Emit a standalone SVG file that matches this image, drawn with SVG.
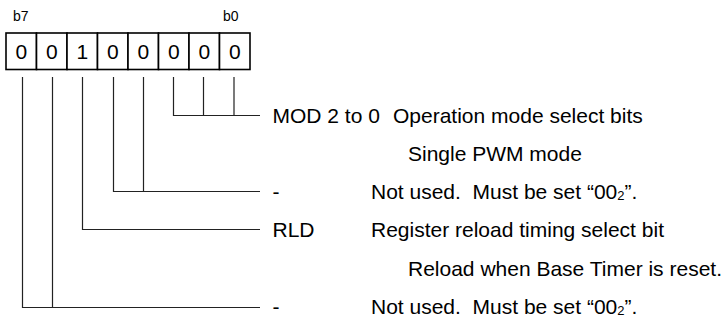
<svg xmlns="http://www.w3.org/2000/svg" width="728" height="320" viewBox="0 0 728 320">
<style>
text{font-family:"Liberation Sans",Arial,sans-serif;fill:#000}
.bitlbl{font-size:14px}
.digit{font-size:21px;text-anchor:middle}
.lbl{font-size:21px}
.sub{font-size:13px}
.cell{fill:#fff;stroke:#000;stroke-width:1.6}
.conn{fill:none;stroke:#222;stroke-width:1.2}
</style>
<rect width="728" height="320" fill="#fff"/>
<g id="register">
<text class="bitlbl" x="13" y="21">b7</text>
<text class="bitlbl" x="223" y="21">b0</text>
<rect class="cell" x="6" y="33" width="30.5" height="36.5"/>
<rect class="cell" x="36.5" y="33" width="30.5" height="36.5"/>
<rect class="cell" x="67" y="33" width="30.5" height="36.5"/>
<rect class="cell" x="97.5" y="33" width="30.5" height="36.5"/>
<rect class="cell" x="128" y="33" width="30.5" height="36.5"/>
<rect class="cell" x="158.5" y="33" width="30.5" height="36.5"/>
<rect class="cell" x="189" y="33" width="30.5" height="36.5"/>
<rect class="cell" x="219.5" y="33" width="30.5" height="36.5"/>
<text class="digit" x="21.25" y="58.5">0</text>
<text class="digit" x="51.75" y="58.5">0</text>
<text class="digit" x="82.25" y="58.5">1</text>
<text class="digit" x="112.75" y="58.5">0</text>
<text class="digit" x="143.25" y="58.5">0</text>
<text class="digit" x="173.75" y="58.5">0</text>
<text class="digit" x="204.25" y="58.5">0</text>
<text class="digit" x="234.75" y="58.5">0</text>
</g>
<g id="connectors">
<path class="conn" d="M173.5 77V115.5H260M203.5 77V115.5M234 77V115.5"/>
<path class="conn" d="M113.5 77V191.5H260M143.5 77V191.5"/>
<path class="conn" d="M82.5 77V229.5H260"/>
<path class="conn" d="M22.5 77V307.5H260M52.5 77V307.5"/>
</g>
<g id="mod">
<text class="lbl" x="272.5" y="123">MOD 2 to 0</text>
<text class="lbl" x="393" y="123">Operation mode select bits</text>
<text class="lbl" x="408" y="161">Single PWM mode</text>
</g>
<g id="notused1">
<text class="lbl" x="272.5" y="199">-</text>
<text class="lbl" x="371" y="199" xml:space="preserve">Not used.  Must be set “00<tspan class="sub" dy="1">2</tspan><tspan dy="-1">”.</tspan></text>
</g>
<g id="rld">
<text class="lbl" x="272.5" y="237">RLD</text>
<text class="lbl" x="371" y="237">Register reload timing select bit</text>
<text class="lbl" x="408" y="276">Reload when Base Timer is reset.</text>
</g>
<g id="notused2">
<text class="lbl" x="272.5" y="314">-</text>
<text class="lbl" x="371" y="314" xml:space="preserve">Not used.  Must be set “00<tspan class="sub" dy="1">2</tspan><tspan dy="-1">”.</tspan></text>
</g>
</svg>
